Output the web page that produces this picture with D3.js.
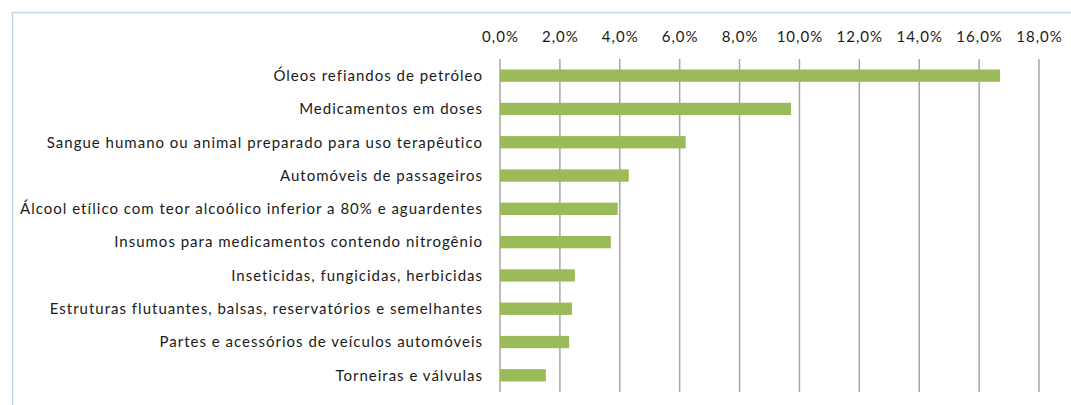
<!DOCTYPE html>
<html>
<head>
<meta charset="utf-8">
<script src="https://cdn.jsdelivr.net/npm/d3@7"></script>
<style>
  body { margin: 0; background: #fff; }
  text { font-family: Lato, "Liberation Sans", sans-serif; fill: #1a1a1a; letter-spacing: 1px; }
</style>
</head>
<body>
<svg id="chart" width="1071" height="405"></svg>
<script>
// categories, top to bottom
var categories = [
  "Óleos refiandos de petróleo",
  "Medicamentos em doses",
  "Sangue humano ou animal preparado para uso terapêutico",
  "Automóveis de passageiros",
  "Álcool etílico com teor alcoólico inferior a 80% e aguardentes",
  "Insumos para medicamentos contendo nitrogênio",
  "Inseticidas, fungicidas, herbicidas",
  "Estruturas flutuantes, balsas, reservatórios e semelhantes",
  "Partes e acessórios de veículos automóveis",
  "Torneiras e válvulas"
]
var shares = [16.7, 9.72, 6.2, 4.3, 3.93, 3.7, 2.5, 2.4, 2.31, 1.53]
var tickValues = [0, 2, 4, 6, 8, 10, 12, 14, 16, 18]

var svg = d3.select('#chart')

// outer frame, cut off at right and bottom like the source
svg.append('rect')
    .attr('x', 12.5).attr('y', 12.5)
    .attr('width', 1100).attr('height', 500)
    .attr('fill', 'none')
    .attr('stroke', '#c3d4ea')
    .attr('stroke-width', 1.5)

var plotLeft = 500, plotRight = 1039, plotTop = 59, plotBottom = 392

var x = d3.scaleLinear().domain([0, 18]).range([plotLeft, plotRight])
var y = d3.scaleBand().domain(categories).range([plotTop, plotBottom]).paddingInner(0.63).paddingOuter(0.315)

var fmt = function(d) { return d.toFixed(1).replace('.', ',') + '%' }

// gridlines
svg.append('g').selectAll('line')
    .data(tickValues)
    .join('line')
    .attr('x1', d => x(d)).attr('x2', d => x(d))
    .attr('y1', plotTop).attr('y2', plotBottom)
    .attr('stroke', '#a6a6a6')
    .attr('stroke-width', 1.5)

// top axis labels
svg.append('g').selectAll('text')
    .data(tickValues)
    .join('text')
    .attr('x', d => x(d) + 0.5)
    .attr('y', 42)
    .attr('text-anchor', 'middle')
    .attr('font-size', 15)
    .text(fmt)

// bars
svg.append('g').selectAll('rect')
    .data(shares)
    .join('rect')
    .attr('x', x(0))
    .attr('y', (d, i) => y(categories[i]))
    .attr('width', d => x(d) - x(0))
    .attr('height', y.bandwidth())
    .attr('fill', '#9bbb59')

// category labels
svg.append('g').selectAll('text')
    .data(categories)
    .join('text')
    .attr('x', 483)
    .attr('y', d => y(d) + y.bandwidth() / 2)
    .attr('dy', '0.35em')
    .attr('text-anchor', 'end')
    .attr('font-size', 15)
    .text(d => d)
</script>
</body>
</html>
